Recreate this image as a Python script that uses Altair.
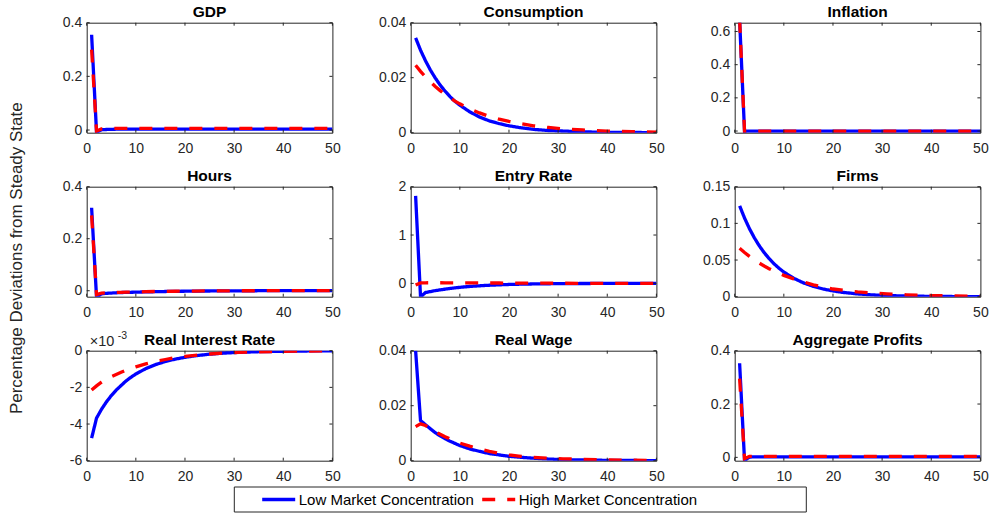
import altair as alt
import pandas as pd

# ---------------- data ----------------
T = [1, 2, 3, 4, 5, 6, 7, 8, 9, 10, 12, 14, 16, 18, 20, 22, 25, 28, 31, 35, 40, 45, 50]
SERIES = ["Low Market Concentration", "High Market Concentration"]
TITLES = ["GDP", "Consumption", "Inflation", "Hours", "Entry Rate", "Firms",
          "Real Interest Rate", "Real Wage", "Aggregate Profits"]

gdp_low = [0.355, -0.009, 0.001, 0.002, 0.0025, 0.003, 0.003, 0.003, 0.003, 0.003, 0.003, 0.003,
           0.003, 0.003, 0.003, 0.003, 0.003, 0.003, 0.003, 0.003, 0.003, 0.003, 0.003]
gdp_high = [0.300, -0.004, 0.004, 0.005, 0.006, 0.006, 0.006, 0.006, 0.006, 0.006, 0.006, 0.006,
            0.006, 0.006, 0.006, 0.006, 0.006, 0.006, 0.006, 0.006, 0.006, 0.006, 0.006]
cons_low = [0.0345, 0.0300, 0.0262, 0.0228, 0.0199, 0.0173, 0.0151, 0.0131, 0.0114, 0.0100, 0.0076,
            0.0057, 0.0043, 0.0033, 0.0025, 0.0019, 0.0012, 0.0008, 0.0006, 0.0003, 0.00015, 0.00008, 0.00004]
cons_high = [0.0245, 0.0223, 0.0203, 0.0185, 0.0168, 0.0153, 0.0139, 0.0127, 0.0115, 0.0105, 0.0087,
             0.0072, 0.0059, 0.0049, 0.0041, 0.0034, 0.0025, 0.0019, 0.0014, 0.0010, 0.0006, 0.0004, 0.0002]
infl_low = [0.67, -0.002, 0.0, 0.0, 0.0, 0.0, 0.0, 0.0, 0.0, 0.0, 0.0, 0.0,
            0.0, 0.0, 0.0, 0.0, 0.0, 0.0, 0.0, 0.0, 0.0, 0.0, 0.0]
infl_high = [0.67, 0.0, 0.0, 0.0, 0.0, 0.0, 0.0, 0.0, 0.0, 0.0, 0.0, 0.0,
             0.0, 0.0, 0.0, 0.0, 0.0, 0.0, 0.0, 0.0, 0.0, 0.0, 0.0]
hours_low = [0.319, -0.025, -0.012, -0.010, -0.009, -0.008, -0.007, -0.0065, -0.006, -0.0055, -0.0045,
             -0.0037, -0.003, -0.0024, -0.0019, -0.0015, -0.001, -0.0006, -0.0003, 0.0, 0.0003, 0.0005, 0.0006]
hours_high = [0.290, -0.015, -0.009, -0.008, -0.007, -0.0065, -0.006, -0.0055, -0.005, -0.0045, -0.0038,
              -0.003, -0.0025, -0.002, -0.0016, -0.0012, -0.0008, -0.0005, -0.0002, 0.0, 0.0002, 0.0004, 0.0005]
entry_low = [1.81, -0.28, -0.19, -0.17, -0.15, -0.135, -0.12, -0.105, -0.093, -0.082, -0.064,
             -0.05, -0.039, -0.03, -0.023, -0.018, -0.012, -0.008, -0.005, -0.003, -0.001, 0.0, 0.0]
entry_high = [-0.035, 0.008, 0.012, 0.013, 0.013, 0.013, 0.012, 0.012, 0.011, 0.011, 0.010,
              0.009, 0.008, 0.007, 0.006, 0.005, 0.004, 0.003, 0.002, 0.0015, 0.001, 0.0005, 0.0003]
firms_low = [0.124, 0.1073, 0.0928, 0.0803, 0.0694, 0.0601, 0.0520, 0.0450, 0.0389, 0.0336, 0.0252,
             0.0188, 0.0141, 0.0105, 0.0079, 0.0059, 0.0038, 0.0025, 0.0016, 0.0009, 0.00045, 0.0002, 0.0001]
firms_high = [0.066, 0.0603, 0.0550, 0.0502, 0.0459, 0.0419, 0.0382, 0.0349, 0.0319, 0.0291, 0.0243,
              0.0202, 0.0162, 0.0131, 0.0105, 0.0088, 0.0066, 0.0050, 0.0038, 0.0026, 0.0016, 0.0010, 0.0006]
# real interest rate in units of 1e-3
rir_low = [-4.77, -3.68, -3.2, -2.8, -2.45, -2.15, -1.9, -1.65, -1.45, -1.27, -0.98,
           -0.76, -0.59, -0.46, -0.36, -0.28, -0.19, -0.13, -0.09, -0.055, -0.03, -0.015, -0.008]
rir_high = [-2.15, -1.92, -1.72, -1.55, -1.42, -1.3, -1.18, -1.07, -0.97, -0.88, -0.72,
            -0.59, -0.48, -0.38, -0.31, -0.25, -0.18, -0.13, -0.095, -0.06, -0.035, -0.02, -0.01]
wage_low = [0.040, 0.0146, 0.0131, 0.0116, 0.0102, 0.0090, 0.0080, 0.0071, 0.0063, 0.0055, 0.0043,
            0.0034, 0.0026, 0.0021, 0.0016, 0.0013, 0.0009, 0.0006, 0.0004, 0.00025, 0.00013, 0.00007, 0.00004]
wage_high = [0.0124, 0.0134, 0.0128, 0.0117, 0.0106, 0.0096, 0.0087, 0.0079, 0.0071, 0.0064, 0.0053,
             0.0043, 0.0034, 0.0027, 0.0021, 0.0017, 0.0012, 0.0009, 0.0007, 0.0005, 0.0003, 0.0002, 0.0001]
prof_low = [0.353, -0.012, 0.001, 0.002, 0.002, 0.002, 0.002, 0.002, 0.002, 0.002, 0.002, 0.002,
            0.002, 0.002, 0.002, 0.002, 0.002, 0.002, 0.002, 0.002, 0.002, 0.002, 0.002]
prof_high = [0.295, -0.005, 0.004, 0.004, 0.004, 0.004, 0.004, 0.004, 0.004, 0.004, 0.004, 0.004,
             0.004, 0.004, 0.004, 0.004, 0.004, 0.004, 0.004, 0.004, 0.004, 0.004, 0.004]

LOWS = [gdp_low, cons_low, infl_low, hours_low, entry_low, firms_low, rir_low, wage_low, prof_low]
HIGHS = [gdp_high, cons_high, infl_high, hours_high, entry_high, firms_high, rir_high, wage_high, prof_high]

Y_DOMAINS = [[-0.01, 0.4], [0, 0.04], [-0.01, 0.653], [-0.023, 0.4], [-0.276, 2],
             [0, 0.15], [-6, 0], [0, 0.04], [-0.0125, 0.4]]
Y_TICKS = [[0, 0.2, 0.4], [0, 0.02, 0.04], [0, 0.2, 0.4, 0.6], [0, 0.2, 0.4], [0, 1, 2],
           [0, 0.05, 0.1, 0.15], [-6, -4, -2, 0], [0, 0.02, 0.04], [0, 0.2, 0.4]]
X_TICKS = [0, 10, 20, 30, 40, 50]

# ---------------- styling ----------------
W, H = 245.7, 110
TL = 3  # inward tick length
AX = "#262626"
FONT = "Liberation Sans"

color_scale = alt.Scale(domain=SERIES, range=["#0000ff", "#ff0000"])
dash_scale = alt.Scale(domain=SERIES, range=[[1, 0], [13, 12]])

legend = alt.Legend(
    title=None, orient="none", legendX=173.5, legendY=468.3, direction="horizontal",
    symbolType="stroke", symbolSize=1089, symbolStrokeWidth=3.3, clipHeight=17,
    labelFontSize=15, labelColor="black", labelFont=FONT, labelOffset=1.5, labelLimit=600,
    columnPadding=6, padding=0,
)


def panel(i):
    n = len(T)
    df = pd.DataFrame({"t": T * 2, "v": LOWS[i] + HIGHS[i],
                       "s": [SERIES[0]] * n + [SERIES[1]] * n})
    xsc = alt.Scale(domain=[0, 50], nice=False, zero=False)
    ysc = alt.Scale(domain=Y_DOMAINS[i], nice=False, zero=False)
    xaxis = alt.Axis(values=X_TICKS, title=None, ticks=False, domain=False, grid=False,
                     labelPadding=9, labelFontSize=14, labelColor=AX, labelFont=FONT,
                     labelExpr="'' + datum.value", labelFlush=False, labelOverlap=False)
    yaxis_kw = dict(values=Y_TICKS[i], title=None, ticks=False, domain=False, grid=False,
                    labelPadding=5, labelFontSize=14, labelColor=AX, labelFont=FONT,
                    labelExpr="'' + datum.value", labelFlush=False, labelOverlap=False)
    if i == 3:
        yaxis_kw.update(title="Percentage Deviations from Steady State", titleX=-70, titleY=71,
                        titleAngle=270, titleAlign="center", titleBaseline="middle",
                        titleFontSize=17, titleFontWeight="normal", titleColor=AX, titleFont=FONT)
    yaxis = alt.Axis(**yaxis_kw)

    x = alt.X("t:Q", scale=xsc, axis=xaxis)
    y = alt.Y("v:Q", scale=ysc, axis=yaxis)
    base = alt.Chart(df).encode(
        x=x, y=y,
        color=alt.Color("s:N", scale=color_scale, legend=legend),
        strokeDash=alt.StrokeDash("s:N", scale=dash_scale, legend=legend),
    )
    low = base.transform_filter(alt.datum.s == SERIES[0]).mark_line(strokeWidth=3.3, clip=True)
    high = base.transform_filter(alt.datum.s == SERIES[1]).mark_line(strokeWidth=3.3, clip=True)

    xt = alt.Chart(pd.DataFrame({"t": X_TICKS}))
    yt = alt.Chart(pd.DataFrame({"v": Y_TICKS[i]}))
    rk = dict(color=AX, strokeWidth=1)
    ticks = [
        xt.mark_rule(**rk).encode(x=x, y=alt.value(0), y2=alt.value(TL)),
        xt.mark_rule(**rk).encode(x=x, y=alt.value(H - TL), y2=alt.value(H)),
        yt.mark_rule(**rk).encode(y=y, x=alt.value(0), x2=alt.value(TL)),
        yt.mark_rule(**rk).encode(y=y, x=alt.value(W - TL), x2=alt.value(W)),
    ]
    title = alt.Chart(pd.DataFrame({"title": [TITLES[i]]})).mark_text(
        align="center", baseline="alphabetic", fontSize=15.5, fontWeight="bold",
        color="black", font=FONT
    ).encode(text="title:N", x=alt.value(W / 2), y=alt.value(-6))
    layers = [low, high] + ticks + [title]
    if i == 6:
        layers.append(alt.Chart(pd.DataFrame({"lab": ["\u00d710"]})).mark_text(
            align="left", baseline="alphabetic", fontSize=14.5, color=AX, font=FONT
        ).encode(text="lab:N", x=alt.value(3), y=alt.value(-5)))
        layers.append(alt.Chart(pd.DataFrame({"lab": ["-3"]})).mark_text(
            align="left", baseline="alphabetic", fontSize=10.5, color=AX, font=FONT
        ).encode(text="lab:N", x=alt.value(31), y=alt.value(-12)))
    if i == 7:
        # frame of the legend box (below the middle panel)
        layers.insert(0, alt.Chart(pd.DataFrame({"box": [1]})).mark_rect(
            fill="white", stroke=AX, strokeWidth=1
        ).encode(x=alt.value(-176.4), x2=alt.value(395.6), y=alt.value(136.3), y2=alt.value(161.3)))
    return alt.layer(*layers).properties(width=W, height=H)


panels = [panel(i) for i in range(9)]

chart = alt.concat(
    *panels, columns=3, spacing={"row": 54, "column": 78}, bounds="flush"
).resolve_scale(
    color="shared", strokeDash="shared"
).resolve_legend(
    color="shared", strokeDash="shared"
).properties(
    autosize=alt.AutoSizeParams(type="none"),
    padding={"left": 86.7, "top": 22.7, "right": 990 - 86.7, "bottom": 515 - 22.7},
).configure(
    font=FONT, background="white"
).configure_view(
    stroke=AX, strokeWidth=1
)

chart.save("out.html", embed_options={"renderer": "svg", "actions": False})
